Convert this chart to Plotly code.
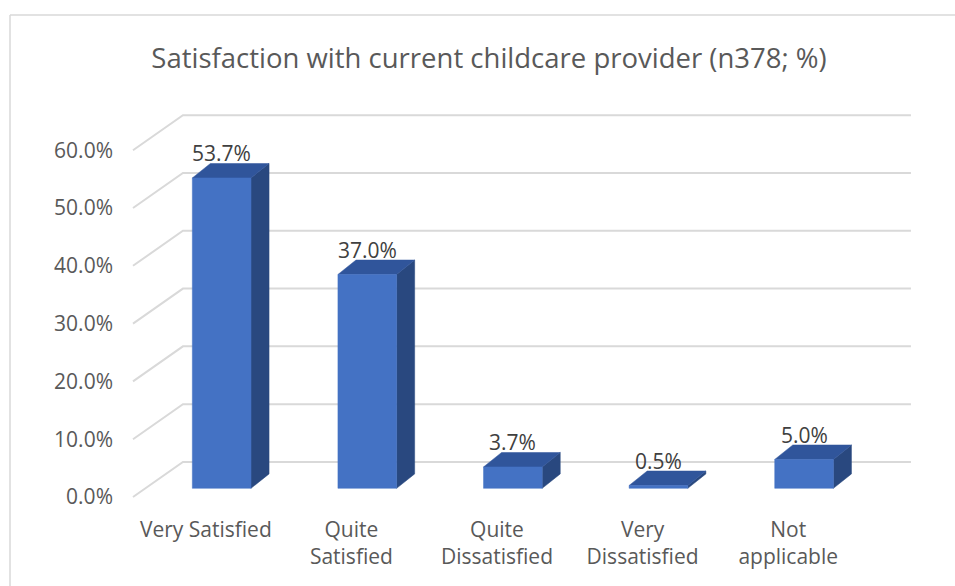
import plotly.graph_objects as go

# data
categories = ["Very Satisfied", "Quite<br>Satisfied", "Quite<br>Dissatisfied", "Very<br>Dissatisfied", "Not<br>applicable"]
values = [53.7, 37.0, 3.7, 0.5, 5.0]
y_ticks = [0, 10, 20, 30, 40, 50, 60]
title_text = "Satisfaction with current childcare provider (n378; %)"

FONT = "'Open Sans', sans-serif"
GREY = "#595959"
GRID = "#d9d9d9"

# fake 3D geometry (data units: x = category slot, y = percent)
DX, DY = 0.343, 6.06        # floor depth offset
FX, FY = 0.085, 1.5         # bar front plane offset
BW = 0.403                  # bar width
BDX, BDY = 0.124, 2.5       # bar depth
C_OFF = 0.524

fig = go.Figure()

# back wall gridlines + floor diagonals
gx, gy = [], []
for v in y_ticks:
    gx += [0, DX, len(categories) + DX, None]
    gy += [v, v + DY, v + DY, None]
fig.add_trace(go.Scatter(x=gx, y=gy, mode="lines", line=dict(color=GRID, width=2),
                         hoverinfo="skip", showlegend=False))

for i, v in enumerate(values):
    xl = i + C_OFF - BW / 2 + FX
    xr = xl + BW
    y0 = FY
    y1 = v + FY
    side = ([xr, xr + BDX, xr + BDX, xr, xr], [y0, y0 + BDY, y1 + BDY, y1, y0])
    top = ([xl, xr, xr + BDX, xl + BDX, xl], [y1, y1, y1 + BDY, y1 + BDY, y1])
    front = ([xl, xr, xr, xl, xl], [y0, y0, y1, y1, y0])
    for (px, py), col in [(side, "#29487f"), (top, "#30559b"), (front, "#4472c4")]:
        fig.add_trace(go.Scatter(x=px, y=py, mode="lines", fill="toself", fillcolor=col,
                                 line=dict(color=col, width=0.5), hoverinfo="skip",
                                 showlegend=False))
    fig.add_annotation(x=(xl + xr) / 2, y=y1 + BDY, text=f"{v:.1f}%", showarrow=False,
                       yanchor="bottom", yshift=-6, font=dict(size=21, color="#404040", family=FONT))

L, R, T, B = 122, 10, 100, 71
W = 955 - L - R
H = 586 - T - B
PX_CAT, PX_PCT, X0, Y0 = 145.6, 5.78, 133, 497

def xp(px):
    return (px - L) / W

def yp(py):
    return (586 - B - py) / H

# chart border
fig.add_shape(type="line", xref="paper", yref="paper", x0=xp(10), x1=xp(10), y0=yp(15), y1=yp(600),
              line=dict(color=GRID, width=1.5))
fig.add_shape(type="line", xref="paper", yref="paper", x0=xp(10), x1=xp(960), y0=yp(15), y1=yp(15),
              line=dict(color=GRID, width=1.5))

fig.update_layout(
    width=955, height=586,
    margin=dict(l=L, r=R, t=T, b=B),
    paper_bgcolor="white", plot_bgcolor="white",
    title=dict(text=title_text, x=489 / 955, xref="container", xanchor="center",
               y=1 - 58 / 586, yref="container", yanchor="middle",
               font=dict(size=27.5, color=GREY, family=FONT)),
    font=dict(family=FONT, color=GREY),
    xaxis=dict(range=[(L - X0) / PX_CAT, (955 - R - X0) / PX_CAT],
               tickvals=[i + 0.5 for i in range(len(categories))], ticktext=categories,
               showgrid=False, zeroline=False, showline=False, ticks="",
               tickfont=dict(size=21, color=GREY, family=FONT)),
    yaxis=dict(range=[(Y0 - (586 - B)) / PX_PCT, (Y0 - T) / PX_PCT],
               tickvals=y_ticks, ticktext=[f"{v:.1f}%" for v in y_ticks],
               showgrid=False, zeroline=False, showline=False, ticks="",
               ticklabelstandoff=8,
               tickfont=dict(size=21, color=GREY, family=FONT)),
)

fig.write_html("out.html", config={"displayModeBar": False},
               post_script="document.body.style.margin='0';")
